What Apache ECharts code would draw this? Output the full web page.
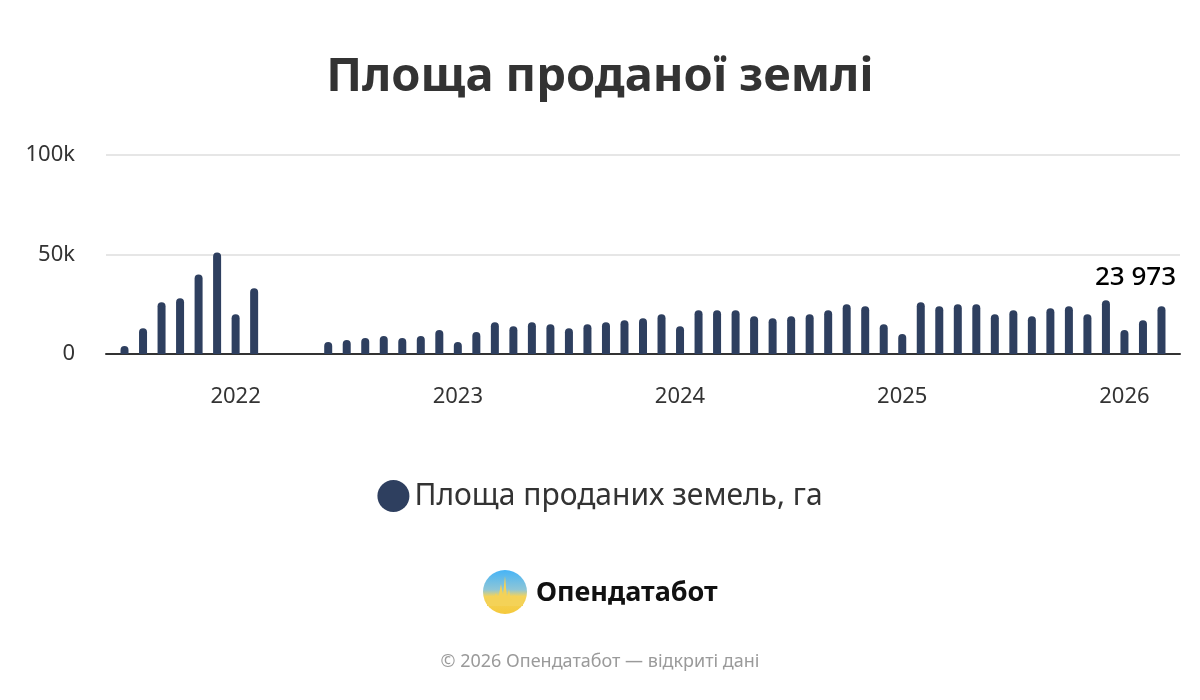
<!DOCTYPE html>
<html>
<head>
<meta charset="utf-8">
<script src="https://cdn.jsdelivr.net/npm/echarts@6/dist/echarts.min.js"></script>
<style>
html,body{margin:0;padding:0;background:#fff;}
#chart{width:1200px;height:700px;}
</style>
</head>
<body>
<div id="chart"></div>
<script>
const titleText = 'Площа проданої землі';
const seriesName = 'Площа проданих земель, га';
const months = [
  '2021-06','2021-07','2021-08','2021-09','2021-10','2021-11','2021-12',
  '2022-01','2022-02','2022-03','2022-04','2022-05','2022-06','2022-07','2022-08','2022-09','2022-10','2022-11','2022-12',
  '2023-01','2023-02','2023-03','2023-04','2023-05','2023-06','2023-07','2023-08','2023-09','2023-10','2023-11','2023-12',
  '2024-01','2024-02','2024-03','2024-04','2024-05','2024-06','2024-07','2024-08','2024-09','2024-10','2024-11','2024-12',
  '2025-01','2025-02','2025-03','2025-04','2025-05','2025-06','2025-07','2025-08','2025-09','2025-10','2025-11','2025-12',
  '2026-01','2026-02','2026-03','2026-04'
];
const areaSold = [
  null, 4000, 13000, 26000, 28000, 40000, 51000,
  20000, 33000, null, null, null, 6000, 7000, 8000, 9000, 8000, 9000, 12000,
  6000, 11000, 16000, 14000, 16000, 15000, 13000, 15000, 16000, 17000, 18000, 20000,
  14000, 22000, 22000, 22000, 19000, 18000, 19000, 20000, 22000, 25000, 24000, 15000,
  10000, 26000, 24000, 25000, 25000, 20000, 22000, 19000, 23000, 24000, 20000, 27000,
  12000, 17000, 23973, null
];
const labelledMonth = '2026-03';
const yTicks = [0, 50000, 100000];
const footerText = '© 2026 Опендатабот — відкриті дані';
const brandText = 'Опендатабот';

const FONT = '"Noto Sans", "Open Sans", sans-serif';
const BAR = '#2e3f5f';

function fmtThousands(v) {
  return String(Math.round(v)).replace(/\B(?=(\d{3})+(?!\d))/g, ' ');
}

const barData = areaSold.map((v, i) => {
  if (months[i] === labelledMonth) {
    return {
      value: v,
      label: {
        show: true, position: 'top', distance: 5, offset: [-26, -11],
        formatter: p => fmtThousands(p.value),
        fontFamily: FONT, fontSize: 26, fontWeight: 500, color: '#000'
      }
    };
  }
  return v;
});

const chart = echarts.init(document.getElementById('chart'), null, {renderer: 'canvas'});
chart.setOption({
  animation: false,
  backgroundColor: '#ffffff',
  textStyle: {fontFamily: FONT},
  title: {
    text: titleText, left: 'center', top: 49,
    textStyle: {fontFamily: FONT, fontSize: 47, fontWeight: 'bold', color: '#333333'}
  },
  legend: {
    data: [seriesName], top: 475, left: 'center',
    icon: 'circle', itemWidth: 32, itemHeight: 32, itemGap: 10,
    textStyle: {fontFamily: FONT, fontSize: 30, color: '#333333'}
  },
  grid: {left: 106, right: 20, top: 155, bottom: 346, containLabel: false},
  xAxis: {
    type: 'category', data: months, boundaryGap: false,
    axisLine: {show: true, lineStyle: {color: '#333333', width: 2}},
    axisTick: {show: false},
    axisLabel: {
      interval: (i, v) => v.slice(5) === '01',
      formatter: v => v.slice(0, 4),
      margin: 32, fontFamily: FONT, fontSize: 22, color: '#333333'
    },
    splitLine: {show: false}
  },
  yAxis: {
    type: 'value', min: yTicks[0], max: yTicks[yTicks.length - 1], interval: yTicks[1] - yTicks[0],
    axisLine: {show: false}, axisTick: {show: false},
    axisLabel: {
      margin: 31, fontFamily: FONT, fontSize: 22, color: '#333333',
      formatter: v => v === 0 ? '0' : (v / 1000) + 'k'
    },
    splitLine: {lineStyle: {color: '#e6e6e6', width: 2}}
  },
  series: [{
    name: seriesName, type: 'bar', data: barData, barWidth: 8,
    itemStyle: {color: BAR, borderRadius: [4, 4, 0, 0]}
  }],
  graphic: [
    {
      type: 'group', left: 483, top: 570,
      children: [
        {
          type: 'circle', shape: {cx: 22, cy: 22, r: 22},
          style: {fill: new echarts.graphic.LinearGradient(0, 0, 0, 1, [
            {offset: 0, color: '#46b4f7'}, {offset: 0.45, color: '#8fc6d6'},
            {offset: 0.6, color: '#f3d35a'}, {offset: 1, color: '#f5c93c'}
          ])}
        },
        {
          type: 'polygon',
          shape: {points: [[4,27],[11,27],[13,23],[15,29],[18,14],[20,25],[22,6],[24,28],[26,19],[28,31],[31,25],[34,28],[40,27],[40,36],[4,36]]},
          style: {fill: '#f4d257'}
        },
        {
          type: 'text', x: 53, y: 23,
          style: {text: brandText, fontFamily: FONT, fontSize: 27, fontWeight: 'bold', fill: '#111111', verticalAlign: 'middle', textAlign: 'left'}
        }
      ]
    },
    {
      type: 'text', left: 'center', top: 653,
      style: {text: footerText, fontFamily: FONT, fontSize: 18, fill: '#9a9a9a'}
    }
  ]
});
</script>
</body>
</html>
